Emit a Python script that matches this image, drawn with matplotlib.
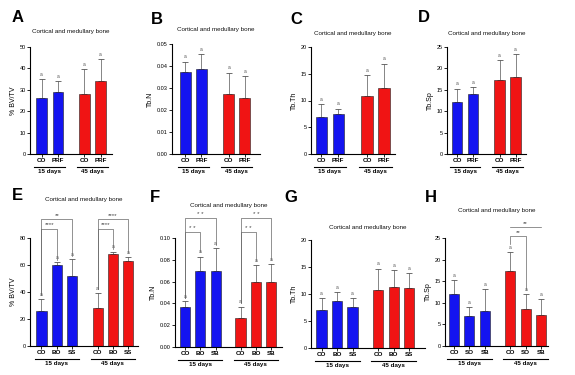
import matplotlib.pyplot as plt
from matplotlib.transforms import blended_transform_factory

plt.rcParams['font.family'] = ['Liberation Sans', 'DejaVu Sans']

# ---- data ----
labels_a = ['CO', 'PRF', 'CO', 'PRF']
bvtv_a = [26, 29, 28.2, 34]
bvtv_a_err = [35.2, 34, 39.5, 44.5]
tbn_b = [0.0375, 0.0388, 0.0275, 0.0253]
tbn_b_err = [0.042, 0.0455, 0.037, 0.0355]
tbth_c = [7.0, 7.5, 10.8, 12.4]
tbth_c_err = [9.3, 8.5, 14.7, 16.9]
tbsp_d = [12.2, 14.0, 17.4, 18.1]
tbsp_d_err = [15.3, 15.7, 22.0, 23.4]

labels_e = ['CO', 'BO', 'SS', 'CO', 'BO', 'SS']
bvtv_e = [26, 60, 51.5, 28.5, 68, 63]
bvtv_e_err = [35, 62, 64.5, 39.5, 70, 66]
labels_f = ['CO', 'BO', 'SB', 'CO', 'BO', 'SB']
tbn_f = [0.037, 0.070, 0.070, 0.027, 0.060, 0.060]
tbn_f_err = [0.042, 0.083, 0.091, 0.037, 0.075, 0.076]
labels_g = ['CO', 'BO', 'SS', 'CO', 'BO', 'SS']
tbth_g = [7.0, 8.7, 7.6, 10.7, 11.3, 11.1]
tbth_g_err = [9.2, 10.4, 9.2, 14.7, 14.5, 13.9]
labels_h = ['CO', 'SO', 'SB', 'CO', 'SO', 'SB']
tbsp_h = [12.1, 7.0, 8.2, 17.3, 8.5, 7.2]
tbsp_h_err = [15.2, 9.0, 13.1, 21.8, 12.1, 10.8]

groups = ['15 days', '45 days']
title = 'Cortical and medullary bone'

BLUE = '#1414f0'
RED = '#f01414'
W, H = 575, 375

fig = plt.figure(figsize=(W / 100, H / 100), dpi=100)


def add_ax(x0, y0, x1, y1):
    return fig.add_axes([x0 / W, 1 - y1 / H, (x1 - x0) / W, (y1 - y0) / H])


def panel(box, letter, letter_xy, title_y, labels, vals, errs, ylim, yticks,
          ylabel, gap, xlim, fmt='{:g}', marks=None):
    x0, y0, x1, y1 = box
    ax = add_ax(x0, y0, x1, y1)
    n = len(vals) // 2
    pos = [i for i in range(n)] + [i + n + gap for i in range(n)]
    cols = [BLUE] * n + [RED] * n
    ax.bar(pos, vals, width=0.66, color=cols, edgecolor='#202020', linewidth=0.4, zorder=2)
    ax.errorbar(pos, vals, yerr=[[0] * len(vals), [e - v for e, v in zip(errs, vals)]],
                fmt='none', ecolor='#555555', elinewidth=0.5, capsize=2.2, capthick=0.6, zorder=1)
    span = ylim[1] - ylim[0]
    for p, e in zip(pos, errs):
        ax.text(p, e + span * 0.02, 'a', ha='center', va='bottom', fontsize=3.5, color='#555555')
    ax.set_xlim(*xlim)
    ax.set_ylim(*ylim)
    ax.set_yticks(yticks)
    ax.set_yticklabels([fmt.format(t) for t in yticks])
    ax.set_xticks(pos)
    ax.set_xticklabels(labels, fontweight='bold')
    ax.tick_params(axis='y', labelsize=4, length=2, width=0.6, pad=1)
    ax.tick_params(axis='x', labelsize=4.5, length=2, width=0.6, pad=1)
    for s in ['top', 'right']:
        ax.spines[s].set_visible(False)
    for s in ['left', 'bottom']:
        ax.spines[s].set_linewidth(0.8)
    ax.set_ylabel(ylabel, fontsize=5, labelpad=2)
    # group underline + labels
    hpx = y1 - y0
    tr = blended_transform_factory(ax.transData, ax.transAxes)
    for g in range(2):
        a, b = pos[g * n] - 0.45, pos[g * n + n - 1] + 0.45
        ax.plot([a, b], [-13 / hpx, -13 / hpx], color='black', lw=0.8,
                transform=tr, clip_on=False)
        ax.text((a + b) / 2, -15 / hpx, groups[g], transform=tr, ha='center',
                va='top', fontsize=4.5, fontweight='bold')
    # significance brackets
    if marks:
        for i, j, yb, di, dj, txt in marks:
            ax.plot([pos[i], pos[i], pos[j], pos[j]], [di, yb, yb, dj],
                    color='#666666', lw=0.5, clip_on=False)
            ax.text((pos[i] + pos[j]) / 2, yb + span * 0.01, txt, ha='center',
                    va='bottom', fontsize=4.5, color='#444444')
    fig.text(letter_xy[0] / W, 1 - letter_xy[1] / H, letter, fontsize=12,
             fontweight='bold', ha='center', va='center')
    fig.text((x0 + x1) / 2 / W, 1 - title_y / H, title, fontsize=4.5,
             ha='center', va='center', color='#111111')
    return ax


panel((30, 47, 112, 154), 'A', (18, 17), 32, labels_a, bvtv_a, bvtv_a_err,
      (0, 50), [0, 10, 20, 30, 40, 50], '% BV/TV', 0.58, (-0.7, 4.27))
panel((172, 44, 260, 154), 'B', (157, 19), 29, labels_a, tbn_b, tbn_b_err,
      (0, 0.05), [0, 0.01, 0.02, 0.03, 0.04, 0.05], 'Tb.N', 0.7, (-0.84, 4.66),
      fmt='{:.2f}')
panel((311, 47, 395, 154), 'C', (296, 19), 33, labels_a, tbth_c, tbth_c_err,
      (0, 20), [0, 5, 10, 15, 20], 'Tb.Th', 0.7, (-0.6, 4.35))
panel((447, 47, 526, 154), 'D', (424, 18), 33, labels_a, tbsp_d, tbsp_d_err,
      (0, 25), [0, 5, 10, 15, 20, 25], 'Tb.Sp', 0.66, (-0.63, 4.31))

panel((30, 238, 138, 346), 'E', (17, 196), 200, labels_e, bvtv_e, bvtv_e_err,
      (0, 80), [0, 20, 40, 60, 80], '% BV/TV', 0.66, (-0.75, 6.3),
      marks=[(0, 2, 94, 38, 67, '**'), (0, 1, 87, 38, 64, '****'),
             (3, 5, 94, 42, 69, '****'), (3, 4, 87, 42, 72, '****')])
panel((175, 238, 282, 347), 'F', (155, 197), 205, labels_f, tbn_f, tbn_f_err,
      (0, 0.10), [0, 0.02, 0.04, 0.06, 0.08, 0.10], 'Tb.N', 0.63, (-0.65, 6.34),
      fmt='{:.2f}',
      marks=[(0, 2, 0.118, 0.045, 0.094, '* *'), (0, 1, 0.1055, 0.045, 0.087, '* *'),
             (3, 5, 0.118, 0.040, 0.080, '* *'), (3, 4, 0.1055, 0.040, 0.079, '* *')])
panel((311, 240, 425, 348), 'G', (291, 197), 228, labels_g, tbth_g, tbth_g_err,
      (0, 20), [0, 5, 10, 15, 20], 'Tb.Th', 0.65, (-0.68, 6.67))
panel((445, 238, 548, 346), 'H', (431, 197), 210, labels_h, tbsp_h, tbsp_h_err,
      (0, 25), [0, 5, 10, 15, 20, 25], 'Tb.Sp', 0.65, (-0.58, 6.1),
      marks=[(3, 5, 27.5, 27.5, 27.5, '**'), (3, 4, 25.5, 23.5, 13.0, '**')])

fig.savefig('out.png', dpi=100)
